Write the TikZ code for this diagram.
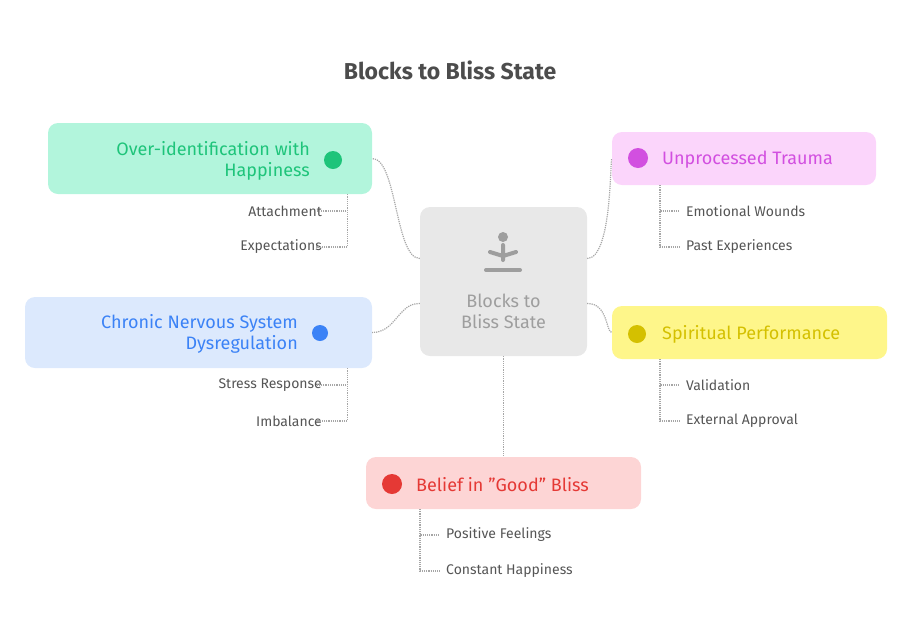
\documentclass[tikz,border=0pt]{standalone}
\usepackage{fontspec}
\setmainfont{Fira Sans}
\usepackage{xcolor}
\definecolor{mintbox}{RGB}{178,245,220}
\definecolor{minttext}{RGB}{30,196,122}
\definecolor{pinkbox}{RGB}{251,213,251}
\definecolor{pinktext}{RGB}{210,79,224}
\definecolor{bluebox}{RGB}{220,233,253}
\definecolor{bluetext}{RGB}{59,130,246}
\definecolor{yellowbox}{RGB}{254,246,138}
\definecolor{yellowtext}{RGB}{212,192,0}
\definecolor{redbox}{RGB}{253,213,213}
\definecolor{redtext}{RGB}{229,57,53}
\definecolor{hubbox}{RGB}{232,232,232}
\definecolor{hubtext}{RGB}{158,158,158}
\definecolor{leaftext}{RGB}{85,85,85}
\tikzset{
  box/.style={rectangle, rounded corners=10pt, inner sep=0pt},
  label/.style={font=\fontsize{18}{21}\selectfont, inner sep=0pt},
  leaf/.style={font=\fontsize{14}{16}\selectfont, text=leaftext, inner sep=0pt},
  conn/.style={gray!70, densely dotted, line width=1.2pt},
}
\begin{document}
\begin{tikzpicture}[x=1pt, y=-1pt]
    \useasboundingbox (0,0) rectangle (912,630);
    % Title
    \node[font=\fontsize{23}{26}\selectfont\bfseries, text=leaftext!90!black] (title) at (450,70) {Blocks to Bliss State};

    % Hub
    \node[box, fill=hubbox, minimum width=167pt, minimum height=149pt] (hub) at (503.5,281.5) {};
    \fill[hubtext] (503,237) circle (5);
    \draw[hubtext, line width=4pt, line cap=round] (503,245) -- (503,260) (490,252) -- (503,256) -- (516,252);
    \draw[hubtext, line width=4pt, line cap=round] (486,270) -- (520,270);
    \node[label, text=hubtext, align=center] (hubtxt) at (503.5,311) {Blocks to\\Bliss State};

    % Over-identification
    \node[box, fill=mintbox, minimum width=324pt, minimum height=71pt] (tl) at (210,158.5) {};
    \node[label, text=minttext, anchor=east, align=right] (tltxt) at (310,161) {Over-identification with\\Happiness};
    \fill[minttext] (333,160) circle (9);
    \node[leaf, anchor=east] (att) at (322,211) {Attachment};
    \node[leaf, anchor=east] (expt) at (322,247) {Expectations};
    \draw[conn] ([xshift=-25pt]tl.south east) |- ([xshift=-6pt]att.east);
    \draw[conn] ([xshift=-25pt]tl.south east) |- ([xshift=-6pt]expt.east);
    \draw[conn] ([yshift=23pt]hub.west) .. controls (395,258) and (397,158.5) .. (tl.east);

    % Unprocessed Trauma
    \node[box, fill=pinkbox, minimum width=264pt, minimum height=53pt] (tr) at (744,158.5) {};
    \node[label, text=pinktext, anchor=west] (trtxt) at (662,160) {Unprocessed Trauma};
    \fill[pinktext] (638,158) circle (10);
    \node[leaf, anchor=west] (emo) at (686,211) {Emotional Wounds};
    \node[leaf, anchor=west] (past) at (686,247) {Past Experiences};
    \draw[conn] (660,185) |- ([xshift=-6pt]emo.west);
    \draw[conn] (660,185) |- ([xshift=-6pt]past.west);
    \draw[conn] ([yshift=23pt]hub.east) .. controls (612,258) and (610,160) .. (tr.west);

    % Chronic Nervous System
    \node[box, fill=bluebox, minimum width=347pt, minimum height=71pt] (ml) at (198.5,332.5) {};
    \node[label, text=bluetext, anchor=east, align=right] (mltxt) at (298,334) {Chronic Nervous System\\Dysregulation};
    \fill[bluetext] (320,333) circle (8);
    \node[leaf, anchor=east] (stress) at (322,385) {Stress Response};
    \node[leaf, anchor=east] (imb) at (322,421) {Imbalance};
    \draw[conn] ([xshift=-25pt]ml.south east) |- ([xshift=-6pt]stress.east);
    \draw[conn] ([xshift=-25pt]ml.south east) |- ([xshift=-6pt]imb.east);
    \draw[conn] ([yshift=-22pt]hub.west) .. controls (398,303) and (396,332.5) .. (ml.east);

    % Spiritual Performance
    \node[box, fill=yellowbox, minimum width=275pt, minimum height=53pt] (mr) at (749.5,332.5) {};
    \node[label, text=yellowtext, anchor=west] (mrtxt) at (662,334) {Spiritual Performance};
    \fill[yellowtext] (637,334) circle (9);
    \node[leaf, anchor=west] (val) at (686,385) {Validation};
    \node[leaf, anchor=west] (ext) at (686,421) {External Approval};
    \draw[conn] (660,359) |- ([xshift=-6pt]val.west);
    \draw[conn] (660,359) |- ([xshift=-6pt]ext.west);
    \draw[conn] ([yshift=-22pt]hub.east) .. controls (608,303) and (606,332.5) .. (mr.west);

    % Belief in Good Bliss
    \node[box, fill=redbox, minimum width=275pt, minimum height=52pt] (bt) at (503.5,483) {};
    \node[label, text=redtext, anchor=west] (bttxt) at (416,485) {Belief in "Good" Bliss};
    \fill[redtext] (392,484) circle (10);
    \node[leaf, anchor=west] (pos) at (446,535) {Positive Feelings};
    \node[leaf, anchor=west] (con) at (446,571) {Constant Happiness};
    \draw[conn] (420,509) |- ([xshift=-6pt]pos.west);
    \draw[conn] (420,509) |- ([xshift=-6pt]con.west);
    \draw[conn] (hub.south) -- (bt.north);
\end{tikzpicture}
\end{document}
